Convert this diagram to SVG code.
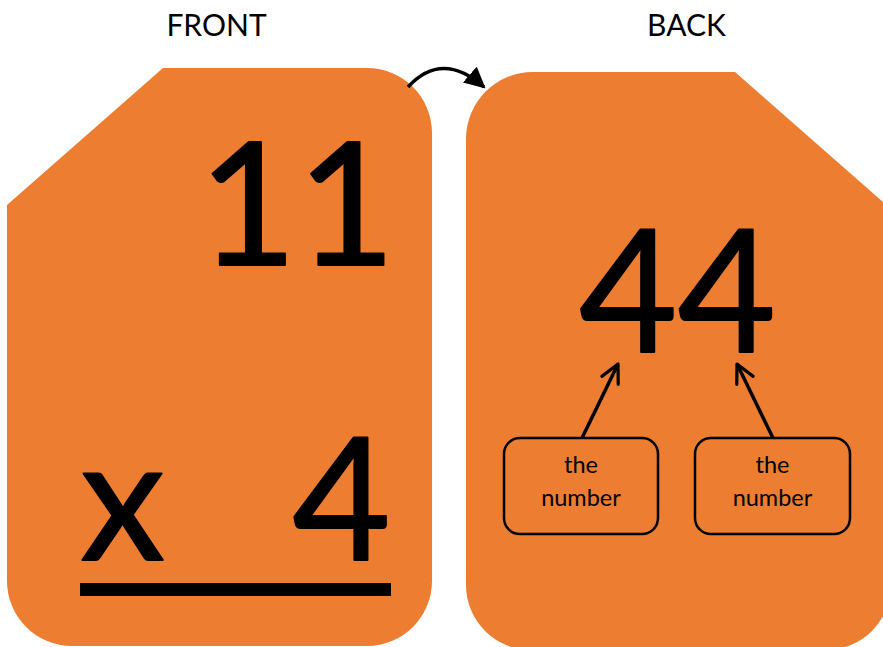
<svg xmlns="http://www.w3.org/2000/svg" width="883" height="647" viewBox="0 0 883 647">
<style>
.card{fill:#ED7D31}
.big{font-family:Lato,"Open Sans",sans-serif;font-size:170px;fill:#000;stroke:#000;stroke-width:1.8;stroke-linejoin:round;text-anchor:middle}
.title{font-family:Lato,"Open Sans",sans-serif;font-size:30px;fill:#000;text-anchor:middle}
.lbl{font-family:Lato,"Open Sans",sans-serif;font-size:23.5px;fill:#000;text-anchor:middle}
.box{fill:none;stroke:#000;stroke-width:2.5}
.conn{fill:none;stroke:#000;stroke-width:3.5}
</style>
<defs>
<marker id="tri" viewBox="0 0 10 10" refX="9" refY="5" markerWidth="6" markerHeight="6" markerUnits="strokeWidth" orient="auto">
<path d="M0,0 L10,5 L0,10 z" fill="#000"/>
</marker>
<marker id="vee" viewBox="0 0 10 10" refX="9" refY="5" markerWidth="6.5" markerHeight="6.5" markerUnits="strokeWidth" orient="auto">
<path d="M1,1 L9,5 L1,9" fill="none" stroke="#000" stroke-width="1.4" stroke-linecap="round" stroke-linejoin="round"/>
</marker>
</defs>
<g id="front-title"><text class="title" x="216.5" y="36">FRONT</text></g>
<g id="back-title"><text class="title" x="686.5" y="36">BACK</text></g>
<g id="front-card">
<path class="card" d="M163,68 L367,68 A65,65 0 0 1 432,133 L432,581 A65,65 0 0 1 367,646 L72,646 A65,65 0 0 1 7,581 L7,205 Z"/>
<text class="big" x="297" y="265">11</text>
<text class="big" x="122.5" y="560">x</text>
<text class="big" x="341.5" y="560">4</text>
<rect x="80" y="583" width="311" height="13" fill="#000"/>
</g>
<g id="back-card">
<path class="card" d="M533,72 L735,72 L891,209 L891,585 A65,65 0 0 1 826,650 L531,650 A65,65 0 0 1 466,585 L466,139 A67,67 0 0 1 533,72 Z"/>
<text class="big" x="677.5" y="352">44</text>
</g>
<g id="label-left">
<rect class="box" x="504" y="438" width="154" height="96" rx="16"/>
<text class="lbl" x="581" y="473">the</text>
<text class="lbl" x="581" y="506">number</text>
</g>
<g id="label-right">
<rect class="box" x="695" y="438" width="155" height="96" rx="16"/>
<text class="lbl" x="772.5" y="473">the</text>
<text class="lbl" x="772.5" y="506">number</text>
</g>
<g id="connectors">
<path class="conn" d="M408,87 Q442,50 484,87" stroke-width="2.5" marker-end="url(#tri)"/>
<path class="conn" d="M582,438 L618,364" marker-end="url(#vee)"/>
<path class="conn" d="M773,438 L737,364" marker-end="url(#vee)"/>
</g>
</svg>
